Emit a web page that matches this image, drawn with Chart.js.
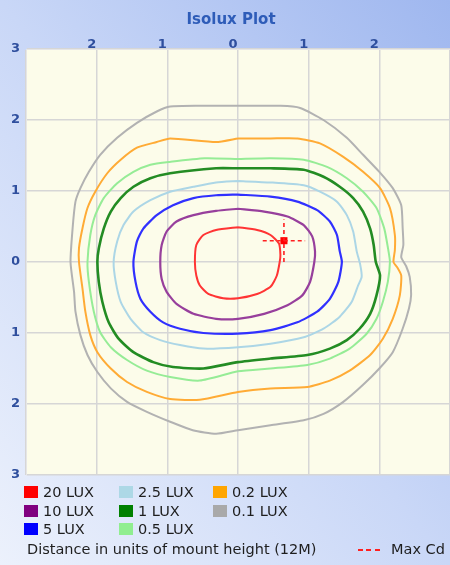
<!DOCTYPE html>
<html>
<head>
<meta charset="utf-8">
<title>Isolux Plot</title>
<script src="https://cdn.jsdelivr.net/npm/chart.js@4.4.1/dist/chart.umd.min.js"></script>
<style>
    html, body { margin: 0; padding: 0; }
    body {
        width: 450px; height: 565px; overflow: hidden; position: relative;
        background: linear-gradient(to top right, #ecf1fc 0%, #c9d7f7 50%, #9fb7ef 100%);
        font-family: "DejaVu Sans", sans-serif;
    }
    #isolux { position: absolute; left: 0; top: 0; }
    .lg-item { position: absolute; height: 18px; line-height: 18px; font-size: 14.5px; color: #1e1e1e; white-space: nowrap; }
    .lg-box { position: absolute; left: 0; top: 3px; width: 14px; height: 12px; }
    .lg-text { position: absolute; left: 19px; top: 0; }
    #note { position: absolute; left: 27px; top: 540px; font-size: 14.5px; color: #1e1e1e; line-height: 18px; white-space: nowrap; }
    #maxcd { position: absolute; left: 358px; top: 540px; font-size: 14.5px; color: #1e1e1e; line-height: 18px; white-space: nowrap; }
    #maxcd .dash { display: inline-block; width: 22px; height: 2px; vertical-align: middle; margin-right: 11px;
        background: repeating-linear-gradient(to right, #ff2020 0 5px, transparent 5px 8.5px); }
</style>
</head>
<body>
<canvas id="isolux" width="450" height="485"></canvas>
<div id="legend"></div>
<div id="note">Distance in units of mount height (12M)</div>
<div id="maxcd"><span class="dash"></span>Max Cd</div>

<script>
// niveaux de l'isolux (lux) et contours, en unites de hauteur de montage
const levels = ['20 LUX', '10 LUX', '5 LUX', '2.5 LUX', '1 LUX', '0.5 LUX', '0.2 LUX', '0.1 LUX'];

const lux20 = [[0,0.49],[0.27,0.45],[0.46,0.38],[0.58,0.26],[0.60,0.10],[0.59,0],[0.55,-0.19],[0.46,-0.35],[0.27,-0.45],[0,-0.51],
    [-0.21,-0.51],[-0.42,-0.45],[-0.54,-0.33],[-0.59,-0.19],[-0.61,0],[-0.59,0.24],[-0.49,0.38],[-0.31,0.45]];
const lux10 = [[0,0.75],[0.37,0.71],[0.70,0.64],[0.93,0.52],[1.05,0.36],[1.09,0.15],[1.08,0],[1.02,-0.28],[0.91,-0.47],[0.70,-0.61],
    [0.37,-0.73],[0,-0.80],[-0.31,-0.80],[-0.63,-0.73],[-0.87,-0.59],[-1.01,-0.42],[-1.08,-0.24],[-1.10,0],[-1.08,0.24],[-1.01,0.43],
    [-0.87,0.57],[-0.63,0.66],[-0.31,0.72]];
const lux5 = [[0,0.95],[0.46,0.92],[0.84,0.85],[1.12,0.73],[1.30,0.57],[1.40,0.38],[1.44,0.15],[1.47,0],[1.42,-0.28],[1.30,-0.52],
    [1.12,-0.70],[0.84,-0.85],[0.46,-0.96],[0,-1.01],[-0.49,-1.00],[-0.82,-0.94],[-1.06,-0.85],[-1.24,-0.70],[-1.38,-0.52],[-1.45,-0.28],
    [-1.48,0],[-1.43,0.29],[-1.34,0.47],[-1.15,0.66],[-0.92,0.80],[-0.63,0.90],[-0.31,0.94]];
const lux2_5 = [[0,1.14],[0.46,1.12],[0.93,1.08],[1.16,0.99],[1.40,0.85],[1.54,0.66],[1.63,0.43],[1.68,0.15],[1.73,-0.04],[1.75,-0.21],
    [1.70,-0.33],[1.61,-0.56],[1.44,-0.77],[1.21,-0.94],[0.93,-1.06],[0.46,-1.15],[0,-1.20],[-0.49,-1.22],[-0.82,-1.17],[-1.10,-1.10],
    [-1.34,-0.99],[-1.52,-0.80],[-1.66,-0.56],[-1.73,-0.28],[-1.76,0],[-1.71,0.29],[-1.62,0.52],[-1.48,0.71],[-1.24,0.87],[-0.96,0.99],
    [-0.63,1.06],[-0.31,1.12]];
const lux1 = [[0,1.32],[0.46,1.32],[0.93,1.30],[1.21,1.20],[1.44,1.06],[1.63,0.90],[1.77,0.71],[1.87,0.47],[1.92,0.24],[1.95,0],
    [2.01,-0.19],[1.96,-0.47],[1.87,-0.73],[1.72,-0.94],[1.54,-1.10],[1.30,-1.22],[0.98,-1.31],[0.46,-1.36],[0,-1.41],[-0.49,-1.50],
    [-0.92,-1.48],[-1.20,-1.41],[-1.48,-1.27],[-1.69,-1.08],[-1.83,-0.85],[-1.92,-0.56],[-1.97,-0.28],[-1.99,0],[-1.97,0.19],[-1.90,0.47],
    [-1.80,0.71],[-1.66,0.90],[-1.48,1.06],[-1.24,1.18],[-0.96,1.25],[-0.31,1.32]];
const lux0_5 = [[0,1.45],[0.46,1.46],[0.93,1.44],[1.26,1.34],[1.54,1.18],[1.77,0.99],[1.96,0.76],[2.07,0.47],[2.13,0.15],[2.15,0],
    [2.12,-0.28],[2.05,-0.56],[1.96,-0.80],[1.82,-1.01],[1.58,-1.22],[1.30,-1.36],[0.98,-1.45],[0.46,-1.50],[0,-1.54],[-0.54,-1.67],
    [-0.96,-1.62],[-1.29,-1.53],[-1.57,-1.38],[-1.80,-1.20],[-1.95,-0.99],[-2.04,-0.70],[-2.11,-0.28],[-2.13,0],[-2.09,0.38],[-2.02,0.66],
    [-1.90,0.90],[-1.71,1.11],[-1.48,1.27],[-1.24,1.37],[-0.96,1.41],[-0.47,1.46]];
const lux0_2 = [[0,1.74],[0.46,1.74],[0.84,1.74],[1.16,1.67],[1.49,1.48],[1.77,1.27],[2.01,1.04],[2.15,0.76],[2.22,0.38],[2.22,0.17],
    [2.20,0],[2.25,-0.07],[2.31,-0.19],[2.29,-0.47],[2.19,-0.80],[2.05,-1.08],[1.87,-1.31],[1.58,-1.53],[1.30,-1.67],[0.98,-1.76],
    [0.46,-1.78],[0,-1.83],[-0.54,-1.94],[-0.96,-1.93],[-1.29,-1.83],[-1.57,-1.69],[-1.80,-1.50],[-1.99,-1.27],[-2.09,-1.03],[-2.16,-0.70],
    [-2.20,-0.38],[-2.25,0],[-2.25,0.20],[-2.20,0.48],[-2.13,0.76],[-2.02,0.99],[-1.85,1.25],[-1.66,1.44],[-1.43,1.61],[-1.15,1.69],
    [-0.96,1.74],[-0.31,1.69]];
const lux0_1 = [[0,2.20],[0.60,2.20],[0.88,2.17],[1.21,2.00],[1.54,1.75],[1.77,1.51],[2.00,1.27],[2.19,1.04],[2.31,0.80],[2.33,0.48],
    [2.34,0.24],[2.31,0.07],[2.38,-0.06],[2.43,-0.21],[2.45,-0.46],[2.42,-0.65],[2.33,-0.94],[2.19,-1.27],[2.00,-1.50],[1.77,-1.73],
    [1.49,-1.97],[1.21,-2.14],[0.93,-2.23],[0.46,-2.30],[0,-2.37],[-0.31,-2.42],[-0.64,-2.37],[-0.96,-2.25],[-1.29,-2.11],[-1.57,-1.97],
    [-1.80,-1.78],[-1.99,-1.55],[-2.13,-1.31],[-2.23,-1.03],[-2.30,-0.70],[-2.32,-0.42],[-2.37,0],[-2.34,0.48],[-2.30,0.85],[-2.23,1.04],
    [-2.11,1.27],[-1.95,1.51],[-1.71,1.75],[-1.43,1.96],[-1.15,2.12],[-0.96,2.19],[-0.54,2.20]];

const contours = [lux20, lux10, lux5, lux2_5, lux1, lux0_5, lux0_2, lux0_1];

// position du max Cd
const maxCd = [0.65, 0.30];

const axisTicks = [-3, -2, -1, 0, 1, 2, 3];

// couleurs
const boxColors = ['#ff0000', '#800080', '#0000ff', '#add8e6', '#008000', '#90ee90', '#ffa500', '#a9a9a9'];
const lineColors = ['#ff3434', '#973f9c', '#3030ff', '#acd6e6', '#238c23', '#96ec96', '#ffab35', '#b2b2b2'];
const lineWidths = [2, 2.2, 2.2, 2, 2.6, 2, 2, 2];
const CROSS = 0.3;

function closed(arr) {
    return arr.concat([arr[0]]).map(p => ({ x: p[0], y: p[1] }));
}

const datasets = contours.map((c, i) => ({
    label: levels[i],
    data: closed(c),
    showLine: true,
    borderColor: lineColors[i],
    borderWidth: lineWidths[i],
    pointRadius: 0,
    tension: 0.2,
    fill: false
}));

// croix en pointilles du max Cd
datasets.push({
    label: 'Max Cd H',
    data: [{ x: maxCd[0] - CROSS, y: maxCd[1] }, { x: maxCd[0] + CROSS, y: maxCd[1] }],
    showLine: true, borderColor: '#ff2020', borderWidth: 1.6, borderDash: [4, 3], pointRadius: 0
});
datasets.push({
    label: 'Max Cd V',
    data: [{ x: maxCd[0], y: maxCd[1] - CROSS }, { x: maxCd[0], y: maxCd[1] + CROSS }],
    showLine: true, borderColor: '#ff2020', borderWidth: 1.6, borderDash: [4, 3], pointRadius: 0
});
datasets.push({
    label: 'Max Cd',
    data: [{ x: maxCd[0], y: maxCd[1] }],
    pointStyle: 'rect', pointRadius: 5, backgroundColor: '#ff0000', borderColor: '#ff0000', borderWidth: 0
});

const plotBg = {
    id: 'plotBg',
    beforeDraw(chart) {
        const { ctx, chartArea: a } = chart;
        ctx.save();
        ctx.fillStyle = '#fcfcea';
        ctx.fillRect(a.left, a.top, a.right - a.left, a.bottom - a.top);
        ctx.restore();
    }
};

const tickFont = { family: 'DejaVu Sans', size: 13, weight: 'bold' };
const tickColor = '#2f4f9e';

new Chart(document.getElementById('isolux'), {
    type: 'scatter',
    data: { datasets },
    options: {
        responsive: false,
        animation: false,
        layout: { autoPadding: false, padding: { top: 0, right: 0, bottom: 10, left: 12 } },
        plugins: {
            legend: { display: false },
            tooltip: { enabled: false },
            title: {
                display: true,
                text: 'Isolux Plot',
                color: '#2e5cb8',
                font: { family: 'DejaVu Sans', size: 15, weight: 'bold' },
                padding: { top: 11, bottom: 0 }
            }
        },
        scales: {
            x: {
                type: 'linear', position: 'top', min: -3, max: 3,
                afterBuildTicks: s => { s.ticks = axisTicks.map(v => ({ value: v })); },
                afterFit: s => { s.height = 20; s.paddingLeft = 0; s.paddingRight = 0; },
                grid: { color: '#d6d6d6', lineWidth: 1.5, drawTicks: false },
                border: { color: '#e6e6e6' },
                ticks: {
                    font: tickFont, color: tickColor, padding: -3, labelOffset: -5, maxRotation: 0,
                    callback: v => (Math.abs(v) === 3 ? '' : String(Math.abs(v)))
                }
            },
            y: {
                type: 'linear', position: 'left', min: -3, max: 3,
                afterBuildTicks: s => { s.ticks = axisTicks.map(v => ({ value: v })); },
                afterFit: s => { s.width = 14; s.paddingTop = 0; s.paddingBottom = 0; },
                grid: { color: '#d6d6d6', lineWidth: 1.5, drawTicks: false },
                border: { color: '#e6e6e6' },
                ticks: {
                    font: tickFont, color: tickColor, padding: 6,
                    callback: v => String(Math.abs(v))
                }
            }
        }
    },
    plugins: [plotBg]
});

// legende en colonnes (3 lignes par colonne)
const legendEl = document.getElementById('legend');
const colLeft = [24, 119, 213];
const rowTop = [483, 502, 520];
levels.forEach((name, i) => {
    const item = document.createElement('div');
    item.className = 'lg-item';
    item.style.left = colLeft[Math.floor(i / 3)] + 'px';
    item.style.top = rowTop[i % 3] + 'px';
    item.innerHTML = `<span class="lg-box" style="background:${boxColors[i]}"></span><span class="lg-text">${name}</span>`;
    legendEl.appendChild(item);
});
</script>
</body>
</html>
